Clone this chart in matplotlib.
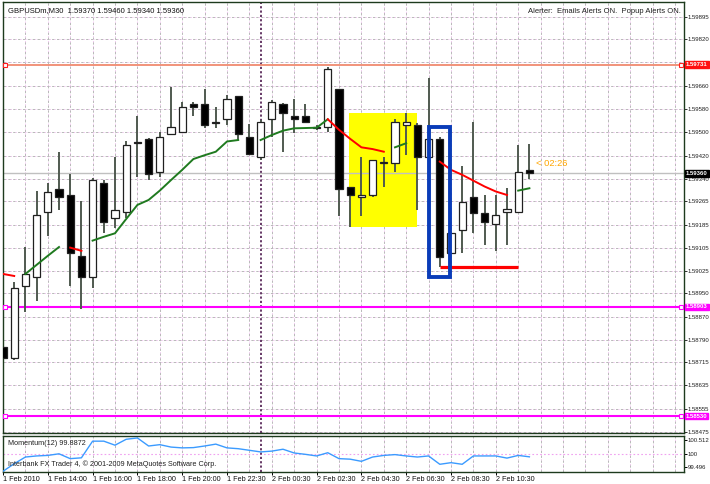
import numpy as np
import matplotlib
matplotlib.use("Agg")
import matplotlib.pyplot as plt
from matplotlib.patches import Rectangle
from matplotlib.transforms import blended_transform_factory

plt.rcParams['font.family'] = ['Liberation Sans', 'DejaVu Sans']

# ---------------------------------------------------------------------
# Data (GBPUSDm, M30, bar 0 = 1 Feb 12:00)
# ---------------------------------------------------------------------
opens = [1.58767, 1.58728, 1.58976, 1.59006, 1.59227, 1.59306, 1.59286, 1.59077, 1.59006, 1.59326,
         1.59207, 1.59227, 1.59466, 1.59478, 1.59366, 1.59495, 1.59503, 1.59597, 1.59597, 1.59535,
         1.59545, 1.59625, 1.59486, 1.59415, 1.59545, 1.59597, 1.59556, 1.59556, 1.59518, 1.59518,
         1.59648, 1.59315, 1.59278, 1.59286, 1.59397, 1.59397, 1.59526, 1.59526, 1.59415, 1.59477,
         1.59087, 1.59167, 1.59278, 1.59226, 1.59187, 1.59227, 1.59227, 1.59370]
highs = [1.58836, 1.58988, 1.59107, 1.59298, 1.59326, 1.59434, 1.59358, 1.59266, 1.59344, 1.59338,
         1.59417, 1.59469, 1.59556, 1.59480, 1.59503, 1.59657, 1.59605, 1.59605, 1.59648, 1.59586,
         1.59628, 1.59625, 1.59528, 1.59543, 1.59611, 1.59600, 1.59615, 1.59597, 1.59526, 1.59725,
         1.59650, 1.59315, 1.59417, 1.59406, 1.59417, 1.59545, 1.59566, 1.59533, 1.59685, 1.59486,
         1.59157, 1.59385, 1.59537, 1.59286, 1.59286, 1.59309, 1.59457, 1.59460]
lows = [1.58660, 1.58720, 1.58885, 1.58925, 1.59146, 1.59235, 1.58976, 1.58895, 1.58967, 1.59157,
        1.59172, 1.59208, 1.59347, 1.59338, 1.59347, 1.59495, 1.59503, 1.59556, 1.59514, 1.59514,
        1.59526, 1.59474, 1.59423, 1.59406, 1.59486, 1.59434, 1.59499, 1.59532, 1.59509, 1.59503,
        1.59214, 1.59178, 1.59214, 1.59279, 1.59315, 1.59366, 1.59423, 1.59235, 1.59378, 1.59041,
        1.59087, 1.59087, 1.59155, 1.59115, 1.59096, 1.59115, 1.59227, 1.59340]
closes = [1.58728, 1.58967, 1.59016, 1.59217, 1.59296, 1.59278, 1.59087, 1.59006, 1.59337, 1.59195,
          1.59235, 1.59457, 1.59463, 1.59357, 1.59486, 1.59518, 1.59586, 1.59586, 1.59526, 1.59533,
          1.59615, 1.59495, 1.59425, 1.59535, 1.59605, 1.59566, 1.59545, 1.59535, 1.59516, 1.59716,
          1.59306, 1.59286, 1.59286, 1.59406, 1.59398, 1.59535, 1.59535, 1.59415, 1.59477, 1.59075,
          1.59157, 1.59263, 1.59226, 1.59195, 1.59218, 1.59237, 1.59366, 1.59360]

nan = np.nan
ma_up = [nan, nan, 1.59016, 1.59047, 1.59078, 1.59108, nan, nan, 1.59130, 1.59143,
         1.59155, 1.59204, 1.59252, 1.59269, 1.59301, 1.59337, 1.59372, 1.59409, 1.59422, 1.59434,
         1.59469, 1.59474, nan, 1.59474, 1.59491, 1.59506, 1.59514, 1.59515, 1.59516, 1.59545,
         nan, nan, nan, nan, nan, 1.59449, 1.59463, nan, nan, nan,
         nan, nan, nan, nan, nan, nan, 1.59301, 1.59309]
ma_dn = [1.59016, 1.59009, nan, nan, nan, nan, 1.59106, 1.59095, nan, nan,
         nan, nan, nan, nan, nan, nan, nan, nan, nan, nan,
         nan, nan, nan, nan, nan, nan, nan, nan, nan, 1.59545,
         1.59509, 1.59478, 1.59449, 1.59443, 1.59434, nan, nan, nan, nan, 1.59400,
         1.59372, 1.59355, 1.59335, 1.59315, 1.59298, 1.59286, nan, nan]

momentum = [99.35, 99.63, 99.88, 99.92, 99.94, 100.00, 99.82, 99.85, 100.47, 100.47,
            100.32, 100.54, 100.59, 100.29, 100.34, 100.25, 100.22, 100.23, 100.29, 100.36,
            100.22, 100.19, 100.13, 100.07, 100.10, 100.17, 100.03, 99.98, 99.92, 100.04,
            99.82, 99.80, 99.72, 99.88, 99.94, 99.97, 99.92, 99.88, 99.92, 99.61,
            99.67, 99.61, 99.92, 99.92, 99.92, 99.84, 99.94, 99.8872]

time_label_bars = [0, 4, 8, 12, 16, 20, 24, 28, 32, 36, 40, 44]
time_labels = ["1 Feb 2010", "1 Feb 14:00", "1 Feb 16:00", "1 Feb 18:00", "1 Feb 20:00",
               "1 Feb 22:30", "2 Feb 00:30", "2 Feb 02:30", "2 Feb 04:30", "2 Feb 06:30",
               "2 Feb 08:30", "2 Feb 10:30"]

price_ticks = [1.59895, 1.59820, 1.59740, 1.59660, 1.59580, 1.59500, 1.59420, 1.59340,
               1.59265, 1.59185, 1.59105, 1.59025, 1.58950, 1.58870, 1.58790, 1.58715,
               1.58635, 1.58555, 1.58475]
hidden_ticks = [1.59740]
mom_ticks = [100.512, 100.0, 99.496]

resistance = 1.59731
support_1 = 1.58903
support_2 = 1.58530
bid = 1.59360
day_separator_bar = 23

yellow_box = (30.9, 36.95, 1.59178, 1.59566)   # t1, t2, p1, p2
blue_box = (38.05, 39.95, 1.59005, 1.59520)
low_level = (39, 46, 1.59041)

title = "GBPUSDm,M30  1.59370 1.59460 1.59340 1.59360"
alert_text = "Alerter:  Emails Alerts ON.  Popup Alerts ON."
timer_text = "< 02:26"

# ---------------------------------------------------------------------
# Figure layout
# ---------------------------------------------------------------------
W, H = 710, 484
fig = plt.figure(figsize=(W / 100, H / 100), dpi=100)
fig.patch.set_facecolor("white")
ax = fig.add_axes([2.5 / W, 1 - 433 / H, 681 / W, 431 / H])
axm = fig.add_axes([2.5 / W, 1 - 472 / H, 681 / W, 36 / H])

x_left, x_right = -0.045, 60.76
border = "#1d3a1d"
fs = 5.2
fs_scale = 4.3
grid_gray = "#b8b8b8"
grid_pink = "#f2c6f2"

for a in (ax, axm):
    a.set_xlim(x_left, x_right)
    a.set_facecolor("white")
    for s in a.spines.values():
        s.set_color(border)
        s.set_linewidth(1.0)
    # grid: gray dashes with pinkish dots in between
    for gx in range(2, 61, 2):
        a.axvline(gx, color=grid_gray, lw=0.7, ls=(0, (2.5, 2.5)), zorder=0)
        a.axvline(gx, color=grid_pink, lw=0.7, ls=(2.5, (1.2, 3.8)), zorder=0)
    a.axvline(day_separator_bar, color="#5a2a5a", lw=1.3, ls=(0, (1.2, 1.2)), zorder=1)

ax.set_ylim(1.58472, 1.59946)
for gy in price_ticks:
    ax.axhline(gy, color=grid_gray, lw=0.7, ls=(0, (2.5, 2.5)), zorder=0)
    ax.axhline(gy, color=grid_pink, lw=0.7, ls=(2.5, (1.2, 3.8)), zorder=0)

# ---------------------------------------------------------------------
# Objects behind candles
# ---------------------------------------------------------------------
ax.add_patch(Rectangle((yellow_box[0], yellow_box[2]), yellow_box[1] - yellow_box[0],
                       yellow_box[3] - yellow_box[2], facecolor="#ffff00",
                       edgecolor="none", zorder=1))

trans = blended_transform_factory(ax.transAxes, ax.transData)
ax.axhline(bid, color="#c0c0c0", lw=1.0, zorder=1)
ax.axhline(resistance, color="#f08a70", lw=1.3, zorder=1)
for p in (support_1, support_2):
    ax.axhline(p, color="#ff00ff", lw=1.5, zorder=1)
ax.plot([0.004, 0.996], [resistance] * 2, transform=trans, ls="none", marker="s",
        ms=3, mfc="white", mec="#ff2020", mew=0.8, zorder=5, clip_on=False)
for p in (support_1, support_2):
    ax.plot([0.004, 0.996], [p] * 2, transform=trans, ls="none", marker="s",
            ms=3, mfc="white", mec="#ff00ff", mew=0.8, zorder=5, clip_on=False)

# ---------------------------------------------------------------------
# Candles
# ---------------------------------------------------------------------
body_w = 0.65
for i, (o, h, l, c) in enumerate(zip(opens, highs, lows, closes)):
    ax.vlines(i, l, h, color="#505a50", lw=1.4, zorder=2)
    lo, hi = min(o, c), max(o, c)
    fc = "white" if c >= o else "black"
    ax.add_patch(Rectangle((i - body_w / 2, lo), body_w, max(hi - lo, 0.000005),
                           facecolor=fc, edgecolor="#202020", lw=0.9, zorder=3))

x = np.arange(len(closes))
ax.plot(x, ma_up, color="#1f7a1f", lw=1.4, zorder=4)
ax.plot(x, ma_dn, color="#ff0000", lw=1.4, zorder=4)

ax.hlines(low_level[2], low_level[0], low_level[1], color="#ff0000", lw=2.3, zorder=4)
ax.add_patch(Rectangle((blue_box[0], blue_box[2]), blue_box[1] - blue_box[0],
                       blue_box[3] - blue_box[2], facecolor="none",
                       edgecolor="#0a3cb8", lw=2.8, zorder=5))

# ---------------------------------------------------------------------
# Price scale
# ---------------------------------------------------------------------
ax.yaxis.tick_right()
ax.set_yticks(price_ticks)
ax.set_yticklabels(["" if t in hidden_ticks else f"{t:.5f}" for t in price_ticks])
ax.tick_params(axis="y", length=2, width=0.7, color="#303030", pad=0.8,
               labelsize=fs_scale, labelcolor="#202020")
ax.tick_params(axis="x", bottom=False, labelbottom=False)

def price_box(p, bg):
    ax.text(1.0035, p, f"{p:.5f}", transform=trans, ha="left", va="center",
            fontsize=fs_scale, color="white", fontweight="bold", zorder=10, clip_on=False,
            bbox=dict(boxstyle="square,pad=0.15", fc=bg, ec=bg))

price_box(resistance, "#ff1010")
price_box(bid, "#000000")
price_box(support_1, "#ff00ff")
price_box(support_2, "#ff00ff")

# ---------------------------------------------------------------------
# Texts
# ---------------------------------------------------------------------
ax.text(5 / 681, 1 - 5 / 431, title, transform=ax.transAxes, ha="left", va="top",
        fontsize=fs + 0.3, color="#101010")
ax.text(1 - 3 / 681, 1 - 6 / 431, alert_text, transform=ax.transAxes, ha="right",
        va="top", fontsize=fs + 0.3, color="#202020")
ax.text(47.6, closes[-1] + 0.00035, timer_text, ha="left", va="center",
        fontsize=fs + 1.5, color="#ffa500", zorder=6)

# ---------------------------------------------------------------------
# Momentum window
# ---------------------------------------------------------------------
axm.set_ylim(99.323, 100.662)
axm.axhline(100, color="#f0a0f0", lw=0.8, ls=(0, (1.5, 2)), zorder=0)
axm.plot(x, momentum, color="#3b9bff", lw=1.0, zorder=3)
axm.yaxis.tick_right()
axm.set_yticks(mom_ticks)
axm.set_yticklabels(["100.512", "100", "99.496"])
axm.tick_params(axis="y", length=2, width=0.7, pad=0.8, labelsize=fs_scale,
                labelcolor="#202020")
axm.set_xticks(time_label_bars)
axm.set_xticklabels(time_labels)
axm.tick_params(axis="x", length=2, width=0.7, pad=1, labelsize=fs, labelcolor="#101010")
for lbl in axm.get_xticklabels():
    lbl.set_ha("left")
axm.text(5 / 681, 1 - 4 / 36, f"Momentum(12) {momentum[-1]:.4f}", transform=axm.transAxes,
         ha="left", va="top", fontsize=fs, color="#202020")
axm.text(5 / 681, 4 / 36, "Interbank FX Trader 4, © 2001-2009 MetaQuotes Software Corp.",
         transform=axm.transAxes, ha="left", va="bottom", fontsize=fs, color="#202020")

fig.savefig("out.png", dpi=100)
